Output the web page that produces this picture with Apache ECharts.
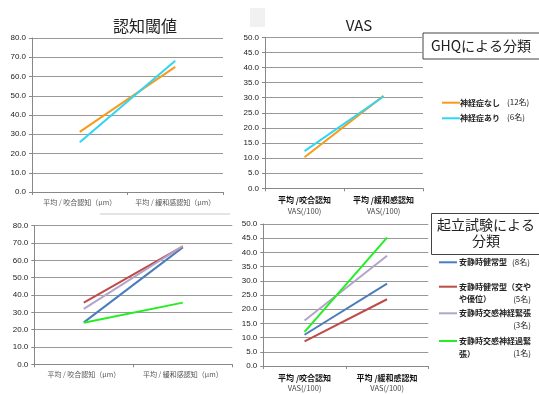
<!DOCTYPE html>
<html><head><meta charset="utf-8">
<script src="https://cdn.jsdelivr.net/npm/echarts@6/dist/echarts.min.js"></script>
<style>html,body{margin:0;padding:0;background:#fff}#c{width:539px;height:394px}</style>
</head><body><div id="c"></div>
<script>
// ---- data ----
const catsThreshold = ['平均 / 咬合認知（μm）', '平均 / 緩和感認知（μm）'];
const catsVAS = ['平均 /咬合認知\nVAS(/100)', '平均 /緩和感認知\nVAS(/100)'];
const ghqNames = ['神経症なし', '神経症あり'];
const ghqCounts = ['(12名)', '(6名)'];
const ghqThreshNo = [31.2, 65.0];
const ghqThreshYes = [25.8, 68.2];
const ghqVasNo = [10.3, 30.6];
const ghqVasYes = [12.3, 30.4];
const stNames = ['安静時健常型', '安静時健常型（交やや優位）', '安静時交感神経緊張', '安静時交感神経過緊張）'];
const stCounts = ['(8名)', '(5名)', '(3名)', '(1名)'];
const stThresh = [
  [24.2, 67.5],
  [35.6, 68.0],
  [32.0, 68.3],
  [24.0, 35.6]
];
const stVas = [
  [11.0, 29.0],
  [8.7, 23.5],
  [16.0, 38.8],
  [12.0, 45.2]
];
const titleTexts = ['認知閾値', 'VAS'];
const boxTexts = ['GHQによる分類', '起立試験による\n分類'];

const ghqColors = ['#F89A1C', '#2FD6F4'];
const stColors = ['#4A7EBB', '#BE4B48', '#B3A3C8', '#22EE22'];
const FONT = '"Noto Sans CJK JP", "Noto Sans", sans-serif';

const grids = [
  {left: 32, top: 38, width: 191, height: 154},
  {left: 265, top: 37.3, width: 158, height: 151},
  {left: 34.3, top: 225.7, width: 198, height: 138.6},
  {left: 263.3, top: 224, width: 165, height: 142}
];

function xAx(i, cats, vas) {
  return {
    type: 'category', gridIndex: i, data: cats, boundaryGap: true,
    axisLine: {lineStyle: {color: '#888', width: 1}},
    axisTick: {show: true, length: 3, lineStyle: {color: '#888'}},
    axisLabel: vas ? {
      interval: 0, hideOverlap: false,
      fontSize: 8, color: '#111', fontWeight: 'bold', fontFamily: FONT, margin: 6, lineHeight: 11,
      formatter: function (v) { const p = v.split('\n'); return p[0] + '\n{s|' + p[1] + '}'; },
      rich: {s: {fontSize: 7.5, color: '#444', fontFamily: FONT, fontWeight: 'normal', lineHeight: 11}}
    } : {interval: 0, hideOverlap: false, fontSize: 7, color: '#555', fontFamily: FONT, margin: 7}
  };
}
function yAx(i, max, interval) {
  return {
    type: 'value', gridIndex: i, min: 0, max: max, interval: interval,
    axisLine: {show: true, lineStyle: {color: '#888'}},
    axisTick: {show: true, length: 3, lineStyle: {color: '#888'}},
    splitLine: {lineStyle: {color: '#999', width: 1}},
    axisLabel: {fontSize: 8, color: '#222', fontFamily: 'Liberation Sans, Arial, sans-serif', margin: 6,
      formatter: function (v) { return v.toFixed(1); }}
  };
}
function ln(name, data, color, idx) {
  return {name: name, type: 'line', xAxisIndex: idx, yAxisIndex: idx, data: data,
    symbol: 'none', lineStyle: {color: color, width: 2}, itemStyle: {color: color}, silent: true, animation: false};
}

const series = [
  ln(ghqNames[0] + ' t', ghqThreshNo, ghqColors[0], 0),
  ln(ghqNames[1] + ' t', ghqThreshYes, ghqColors[1], 0),
  ln(ghqNames[0] + ' v', ghqVasNo, ghqColors[0], 1),
  ln(ghqNames[1] + ' v', ghqVasYes, ghqColors[1], 1)
];
stNames.forEach((n, k) => series.push(ln(n + ' t', stThresh[k], stColors[k], 2)));
stNames.forEach((n, k) => series.push(ln(n + ' v', stVas[k], stColors[k], 3)));

// legend graphics
const graphic = [
  {type: 'rect', shape: {x: 250, y: 8, width: 15, height: 19}, style: {fill: '#f1f1f1'}, silent: true},
  {type: 'rect', shape: {x: 100, y: 213, width: 130, height: 2}, style: {fill: '#e4e4e4'}, silent: true},
  {type: 'rect', shape: {x: 423, y: 33, width: 120, height: 26}, style: {fill: '#fff', stroke: '#444', lineWidth: 1}},
  {type: 'text', x: 481, y: 46, style: {text: boxTexts[0], font: '14px ' + FONT, fill: '#222', align: 'center', verticalAlign: 'middle'}},
  {type: 'rect', shape: {x: 431.5, y: 213.5, width: 115, height: 41}, style: {fill: '#fff', stroke: '#444', lineWidth: 1}},
  {type: 'text', x: 486, y: 233, style: {text: boxTexts[1], font: '14px ' + FONT, fill: '#222', align: 'center', verticalAlign: 'middle', lineHeight: 16}}
];
const ghqY = [102.7, 118.3];
ghqNames.forEach((n, k) => {
  graphic.push({type: 'line', shape: {x1: 442, y1: ghqY[k], x2: 460, y2: ghqY[k]}, style: {stroke: ghqColors[k], lineWidth: 2}});
  graphic.push({type: 'text', x: 460, y: ghqY[k], style: {text: n, font: 'bold 8px ' + FONT, fill: '#222', verticalAlign: 'middle'}});
  graphic.push({type: 'text', x: 507, y: ghqY[k] - 1, style: {text: ghqCounts[k], font: '8px ' + FONT, fill: '#222', verticalAlign: 'middle'}});
});
const stY = [262.3, 286.7, 313.3, 341];
const stLines = [[stNames[0]], ['安静時健常型（交や', 'や優位）'], [stNames[2]], ['安静時交感神経過緊', '張）']];
stNames.forEach((n, k) => {
  graphic.push({type: 'line', shape: {x1: 439, y1: stY[k], x2: 457, y2: stY[k]}, style: {stroke: stColors[k], lineWidth: 2}});
  stLines[k].forEach((t, j) => {
    graphic.push({type: 'text', x: 459, y: stY[k] + j * 12.5, style: {text: t, font: 'bold 8px ' + FONT, fill: '#222', verticalAlign: 'middle'}});
  });
  if (k === 0) {
    graphic.push({type: 'text', x: 512, y: stY[k], style: {text: stCounts[k], font: '8px ' + FONT, fill: '#222', verticalAlign: 'middle'}});
  } else {
    graphic.push({type: 'text', x: 531, y: stY[k] + 12, style: {text: stCounts[k], font: '8px ' + FONT, fill: '#222', verticalAlign: 'middle', align: 'right'}});
  }
});

const chart = echarts.init(document.getElementById('c'), null, {renderer: 'canvas'});
chart.setOption({
  animation: false,
  backgroundColor: '#fff',
  title: [
    {text: titleTexts[0], left: 140, top: 21, textAlign: 'center', textVerticalAlign: 'middle',
      textStyle: {fontSize: 16, fontWeight: 'normal', color: '#222', fontFamily: FONT}},
    {text: titleTexts[1], left: 354, top: 20, textAlign: 'center', textVerticalAlign: 'middle',
      textStyle: {fontSize: 15, fontWeight: 'normal', color: '#222', fontFamily: FONT}}
  ],
  grid: grids,
  xAxis: [xAx(0, catsThreshold, false), xAx(1, catsVAS, true), xAx(2, catsThreshold, false), xAx(3, catsVAS, true)],
  yAxis: [yAx(0, 80, 10), yAx(1, 50, 5), yAx(2, 80, 10), yAx(3, 50, 5)],
  series: series,
  graphic: graphic
});
</script></body></html>
